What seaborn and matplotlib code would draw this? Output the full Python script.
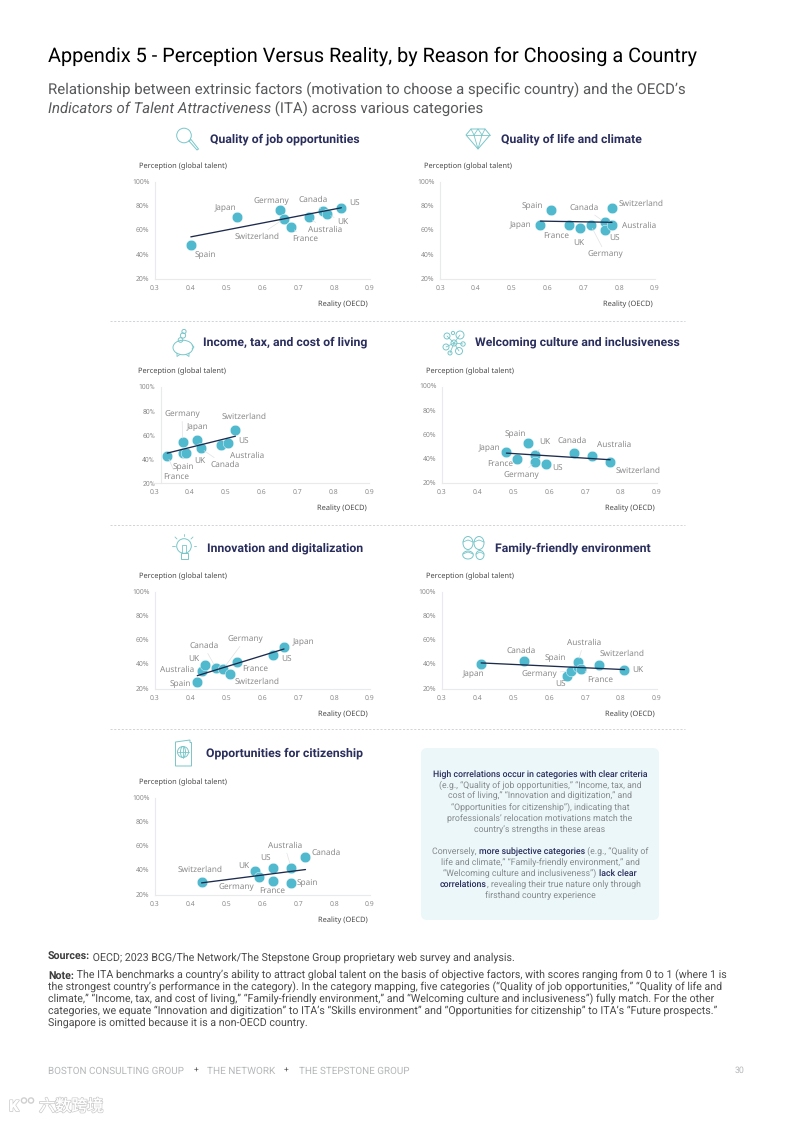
import matplotlib
matplotlib.use("Agg")
import matplotlib.pyplot as plt
import matplotlib.patheffects as pe
from matplotlib.patches import FancyBboxPatch, Circle, Ellipse, Polygon, Rectangle
import seaborn as sns

sns.set_theme(style="white")
plt.rcParams["font.family"] = ["Roboto", "DejaVu Sans"]
plt.rcParams["text.hinting"] = "no_hinting"

# ---------- data ----------
job_names = ["Spain", "Japan", "Germany", "Switzerland", "France", "Australia", "Canada", "UK", "US"]
job_x = [.40, .53, .65, .66, .68, .73, .77, .78, .82]
job_y = [48, 71, 77, 70, 63, 71, 76, 74, 78.5]
job_trend_x = [.40, .82]
job_trend_y = [55, 79]

life_names = ["Spain", "Japan", "France", "UK", "Germany", "Canada", "US", "Australia", "Switzerland"]
life_x = [.61, .58, .66, .69, .72, .76, .76, .78, .78]
life_y = [77, 65, 65, 62, 65, 67, 61, 65, 79]
life_trend_x = [.58, .78]
life_trend_y = [68, 67]

income_names = ["France", "Germany", "Spain", "UK", "Japan", "Canada", "Australia", "US", "Switzerland"]
income_x = [.337, .38, .38, .39, .42, .43, .487, .507, .527]
income_y = [43, 54, 45, 45, 56, 49, 52, 53, 64]
income_trend_x = [.337, .527]
income_trend_y = [45, 59]

welcome_names = ["Japan", "France", "Spain", "UK", "Germany", "US", "Canada", "Australia", "Switzerland"]
welcome_x = [.48, .51, .54, .56, .56, .59, .67, .72, .77]
welcome_y = [46, 40, 53, 43.5, 38, 36, 45, 43, 37.5]
welcome_trend_x = [.48, .77]
welcome_trend_y = [45, 39.5]

innov_names = ["Spain", "Australia", "UK", "Canada", "Germany", "Switzerland", "France", "US", "Japan"]
innov_x = [.418, .43, .44, .47, .49, .51, .53, .63, .66]
innov_y = [26, 34.6, 39.5, 37.3, 36.5, 32.4, 42, 48.3, 55]
innov_trend_x = [.418, .66]
innov_trend_y = [31, 53]

family_names = ["Japan", "Canada", "US", "Germany", "Spain", "Australia", "France", "Switzerland", "UK"]
family_x = [.41, .53, .65, .66, .68, .68, .69, .74, .81]
family_y = [41, 43, 31, 35, 38, 42, 36.5, 40, 36]
family_trend_x = [.41, .81]
family_trend_y = [41.5, 36]

citizen_names = ["Switzerland", "UK", "Germany", "US", "France", "Australia", "Spain", "Canada"]
citizen_x = [.43, .58, .59, .63, .63, .68, .68, .72]
citizen_y = [31, 40, 35, 42, 31.5, 42.5, 30, 51]
citizen_trend_x = [.43, .72]
citizen_trend_y = [30, 41]

x_ticks = [.3, .4, .5, .6, .7, .8, .9]
y_ticks = [20, 40, 60, 80, 100]

# ---------- styles / layout ----------
W, H = 793, 1122
TEAL = "#50B9CE"
NAVY = "#2A2E5C"
DARK = "#1D2B4D"
GRAY = "#8A8A8A"
ICON = "#79C6CA"
PANEL_FONT = ["Noto Sans", "DejaVu Sans"]

fig = plt.figure(figsize=(W / 100, H / 100), dpi=100, facecolor="white")
page = fig.add_axes([0, 0, 1, 1], zorder=0)
page.set_xlim(0, W)
page.set_ylim(H, 0)
page.axis("off")
rend = fig.canvas.get_renderer()


def tw(s, **kw):
    t = page.text(0, 0, "|" + s + "|", **kw)
    a = t.get_window_extent(rend).width
    t.set_text("||")
    b = t.get_window_extent(rend).width
    t.remove()
    return a - b


def fit(s, width, **kw):
    size = 10.0
    for _ in range(3):
        size *= width / tw(s, fontsize=size, **kw)
    return size


def rich(x, y, runs, size, ha="left"):
    total = sum(tw(r[0], fontsize=size, **r[1]) for r in runs)
    cur = x - total / 2 if ha == "center" else x
    base = y + 0.49 * size
    for s, st in runs:
        page.text(cur, base, s, fontsize=size, va="baseline", ha="left", **st)
        cur += tw(s, fontsize=size, **st)


LABEL_SIZE = fit("Switzerland", 45, family=PANEL_FONT)
TICK_SIZE = fit("100%", 17.5, family=PANEL_FONT)
AXT_SIZE = fit("Perception (global talent)", 88, family=PANEL_FONT)
HEAD_SIZE = fit("Quality of job opportunities", 149, fontweight="bold")

# (zoom-crop origin, label centres inside that crop at 3x, names that get a leader line)
panels = [
    dict(t="Quality of job opportunities", tc=284.5, ty_=139, names=job_names, x=job_x, y=job_y, tx=job_trend_x, ty=job_trend_y,
         rect=(155, 182.3, 370, 279.3), ptop=166, rx=368, ry=304, plx=139, org=(110, 120),
         lab=[(287, 405), (347, 264), (485, 243), (441, 351), (585, 357), (646, 330), (608, 240), (699, 306), (734, 252)],
         lead=["Switzerland", "Australia", "UK", "France", "Canada"]),
    dict(t="Quality of life and climate", tc=571.5, ty_=139, names=life_names, x=life_x, y=life_y, tx=life_trend_x, ty=life_trend_y,
         rect=(440, 182.3, 655, 279.3), ptop=166, rx=653, ry=304, plx=424, org=(400, 120),
         lab=[(398, 258), (361, 316), (470, 348), (535, 368), (617, 402), (553, 263), (645, 357), (716, 318), (724, 252)],
         lead=["Germany", "Canada"]),
    dict(t="Income, tax, and cost of living", tc=285.5, ty_=342, names=income_names, x=income_x, y=income_y, tx=income_trend_x, ty=income_trend_y,
         rect=(154, 386.7, 369.3, 483.3), ptop=371, rx=367, ry=508, plx=138, org=(110, 325),
         lab=[(200, 456), (216, 267), (220, 425), (269, 407), (263, 306), (345, 420), (412, 392), (401, 350), (403, 276)],
         lead=["Germany", "France", "Canada", "Spain"], shift=6.5),
    dict(t="Welcoming culture and inclusiveness", tc=577, ty_=342, names=welcome_names, x=welcome_x, y=welcome_y, tx=welcome_trend_x, ty=welcome_trend_y,
         rect=(442, 386.7, 656.7, 483.3), ptop=371, rx=655, ry=508, plx=426, org=(400, 325),
         lab=[(269, 370), (300, 416), (346, 327), (435, 351), (363, 450), (473, 431), (515, 348), (642, 360), (713, 437)],
         lead=["Germany", "UK"]),
    dict(t="Innovation and digitalization", tc=285.5, ty_=548, names=innov_names, x=innov_x, y=innov_y, tx=innov_trend_x, ty=innov_trend_y,
         rect=(155, 592, 370, 689), ptop=576, rx=368, ry=714, plx=139, org=(110, 530),
         lab=[(212, 461), (201, 420), (250, 386), (281, 348), (406, 327), (441, 455), (436, 417), (531, 390), (579, 336)],
         lead=["Canada", "Germany"]),
    dict(t="Family-friendly environment", tc=572.5, ty_=548, names=family_names, x=family_x, y=family_y, tx=family_trend_x, ty=family_trend_y,
         rect=(441.7, 592, 656.7, 689), ptop=576, rx=655, ry=714, plx=426, org=(400, 530),
         lab=[(221, 432), (363, 363), (483, 465), (417, 432), (466, 384), (551, 339), (600, 449), (665, 372), (714, 420)],
         lead=["Australia", "Germany", "France"]),
    dict(t="Opportunities for citizenship", tc=284.5, ty_=753, names=citizen_names, x=citizen_x, y=citizen_y, tx=citizen_trend_x, ty=citizen_trend_y,
         rect=(155, 798, 370, 895), ptop=782, rx=368, ry=920, plx=139, org=(110, 735),
         lab=[(271, 405), (400, 393), (380, 456), (466, 372), (488, 467), (524, 332), (592, 444), (648, 353)],
         lead=["Australia"]),
]

for p in panels:
    l, t, r, b = p["rect"]
    ax = fig.add_axes([l / W, 1 - b / H, (r - l) / W, (b - t) / H], zorder=2)
    ax.set_facecolor("none")
    sns.scatterplot(x=p["x"], y=p["y"], ax=ax, s=58, color=TEAL, edgecolor="white", linewidth=0.3, zorder=3, clip_on=False)
    sns.lineplot(x=p["tx"], y=p["ty"], ax=ax, color=DARK, linewidth=0.95, estimator=None, sort=False, zorder=4)
    ax.set_xlim(.3, .9)
    ax.set_ylim(20, 100)
    ax.set_xticks(x_ticks)
    ax.set_yticks(y_ticks)
    ax.set_xticklabels([f"{v:.1f}" for v in x_ticks], family=PANEL_FONT)
    ax.set_yticklabels([f"{v}%" for v in y_ticks], family=PANEL_FONT)
    ax.tick_params(axis="x", length=0, pad=4.6, labelsize=TICK_SIZE, labelcolor=GRAY)
    ax.tick_params(axis="y", length=0, pad=4.0, labelsize=TICK_SIZE, labelcolor=GRAY)
    for s in ("top", "right"):
        ax.spines[s].set_visible(False)
    for s in ("left", "bottom"):
        ax.spines[s].set_color("#E8EAEC")
        ax.spines[s].set_linewidth(0.8)
    if "shift" in p:
        ax.spines["left"].set_position(("data", .3 + p["shift"] / (r - l) * .6))
    ox, oy = p["org"]
    for n, px_, py_, (zx, zy) in zip(p["names"], p["x"], p["y"], p["lab"]):
        ax.annotate(n, xy=(px_, py_), xycoords="data", xytext=(ox + zx / 3, oy + zy / 3),
                    textcoords=page.transData, ha="center", va="center", fontsize=LABEL_SIZE, color=GRAY,
                    family=PANEL_FONT, annotation_clip=False,
                    arrowprops=(dict(arrowstyle="-", color="#DFE2E4", lw=0.5, shrinkA=0, shrinkB=3) if n in p["lead"] else None))
    page.text(p["tc"], p["ty_"], p["t"], ha="center", va="center", fontsize=HEAD_SIZE, fontweight="bold", color=NAVY)
    page.text(p["plx"], p["ptop"], "Perception (global talent)", ha="left", va="center", fontsize=AXT_SIZE,
              color="#4A4A4A", family=PANEL_FONT)
    page.text(p["rx"], p["ry"], "Reality (OECD)", ha="right", va="center", fontsize=AXT_SIZE,
              color="#4A4A4A", family=PANEL_FONT)

# separators
for y in (320.5, 525, 729):
    page.plot([110, 685], [y, y], color="#C9CDD0", lw=0.6, ls=(0, (2.5, 2)))

# ---------- icons (decorative line drawings) ----------
ik = dict(ec=ICON, fc="none", lw=0.7)
lk = dict(color=ICON, lw=0.6)
# magnifier
page.add_patch(Circle((184, 135.5), 7.3, **ik))
page.plot([189, 197, 198.5, 191, 189], [141, 150, 149, 139.5, 141], color=ICON, lw=0.7)
# diamond
page.add_patch(Polygon([(466, 135), (471, 129), (485, 129), (490, 135), (478, 149)], closed=True, **ik))
page.plot([466, 490], [135, 135], **lk)
page.plot([471, 474, 478, 482, 485], [129, 135, 129, 135, 129], **lk)
page.plot([474, 478, 482], [135, 149, 135], **lk)
# piggy bank
page.add_patch(Ellipse((183, 347.5), 20, 14.5, **ik))
page.add_patch(Circle((183, 335.5), 2.6, **ik))
page.add_patch(Circle((180.5, 340), 2.3, **ik))
page.add_patch(Circle((184, 331.5), 2.1, **ik))
page.plot([177, 177, 180], [353, 356.5, 354.5], **lk)
page.plot([189, 189, 186], [353, 356.5, 354.5], **lk)
page.plot([192, 194, 192], [345, 347, 349], **lk)
# network
for cx, cy, rad in [(447, 336, 3), (460, 335, 4), (446, 347, 3), (454, 343, 3), (459, 351, 3.5),
                    (450, 353, 2), (463, 344, 2.2), (453, 333, 1.6)]:
    page.add_patch(Circle((cx, cy), rad, **ik))
page.plot([447, 454, 460], [336, 343, 335], **lk)
page.plot([446, 454, 459], [347, 343, 351], **lk)
page.plot([450, 454, 463], [353, 343, 344], **lk)
# light bulb
page.add_patch(Circle((184, 546), 7.3, **ik))
page.add_patch(Rectangle((180.5, 553), 7, 6, **ik))
page.plot([182, 182, 186, 186], [553, 545, 545, 553], **lk)
for a, b, c, d in [(172, 546, 174.5, 546), (193.5, 546, 196, 546), (175, 537, 177, 539),
                   (193, 537, 191, 539), (184, 536, 184, 534)]:
    page.plot([a, c], [b, d], **lk)
# faces
for cx, cy, wd, ht in [(468, 543, 10, 13), (479, 543, 10, 13), (468, 555, 10.5, 8), (480, 555, 8, 9)]:
    page.add_patch(Ellipse((cx, cy), wd, ht, **ik))
    page.plot([cx - wd / 2, cx, cx + wd / 2], [cy - 1, cy - 3, cy - 1], **lk)
# passport
page.add_patch(Polygon([(175.5, 742), (190, 740), (190, 742.5), (191.5, 742.5), (191.5, 766), (175.5, 766)], closed=True, **ik))
page.add_patch(Circle((183, 752), 5.5, **ik))
page.add_patch(Ellipse((183, 752), 5, 11, **ik))
page.plot([177.5, 188.5], [752, 752], **lk)
page.plot([183, 183], [746.5, 757.5], **lk)

# ---------- headings ----------
TITLE = "Appendix 5 - Perception Versus Reality, by Reason for Choosing a Country"
page.text(48, 56, TITLE, fontsize=fit(TITLE, 650), va="center", color="black")
SUB1 = "Relationship between extrinsic factors (motivation to choose a specific country) and the OECD\u2019s"
sub_size = fit(SUB1, 637)
rich(48, 88.5, [(SUB1, dict(color="#58595B"))], sub_size)
rich(48, 107.5, [("Indicators of Talent Attractiveness", dict(style="italic", color="#58595B")),
                 (" (ITA) across various categories", dict(color="#58595B"))], sub_size)

# ---------- call-out box ----------
page.add_patch(FancyBboxPatch((424, 751), 232, 166, boxstyle="round,pad=3,rounding_size=6", fc="#ECF7FA", ec="none"))
B = dict(color=NAVY, fontweight="medium")
G = dict(color="#85898C")
box_lines = [
    (774, [("High correlations occur in categories with clear criteria", B)]),
    (784.7, [("(e.g., \u201cQuality of job opportunities,\u201d \u201cIncome, tax, and", G)]),
    (795.3, [("cost of living,\u201d \u201cInnovation and digitization,\u201d and", G)]),
    (806.7, [("\u201cOpportunities for citizenship\u201d), indicating that", G)]),
    (818, [("professionals\u2019 relocation motivations match the", G)]),
    (829, [("country\u2019s strengths in these areas", G)]),
    (850.7, [("Conversely, ", G), ("more subjective categories", B), (" (e.g., \u201cQuality of", G)]),
    (861.7, [("life and climate,\u201d \u201cFamily-friendly environment,\u201d and", G)]),
    (873, [("\u201cWelcoming culture and inclusiveness\u201d) ", G), ("lack clear", B)]),
    (883.7, [("correlations", B), (", revealing their true nature only through", G)]),
    (894.7, [("firsthand country experience", G)]),
]
box_size = fit(box_lines[0][1][0][0], 217, fontweight="medium")
for y, runs in box_lines:
    rich(540, y, runs, box_size, ha="center")

# ---------- notes ----------
NB = dict(color="#3C3C3C", fontweight="bold")
NR = dict(color="#4A4A4A")
NOTE1 = "The ITA benchmarks a country\u2019s ability to attract global talent on the basis of objective factors, with scores ranging from 0 to 1 (where 1 is"
note_size = fit(NOTE1, 644)
rich(48, 956.5, [("Sources:", NB), (" OECD; 2023 BCG/The Network/The Stepstone Group proprietary web survey and analysis.", NR)], note_size)
rich(48, 975, [("Note:", NB), (" " + NOTE1, NR)], note_size)
for y, s in [(987, "the strongest country\u2019s performance in the category). In the category mapping, five categories (\u201cQuality of job opportunities,\u201d \u201cQuality of life and"),
             (998.4, "climate,\u201d \u201cIncome, tax, and cost of living,\u201d \u201cFamily-friendly environment,\u201d and \u201cWelcoming culture and inclusiveness\u201d) fully match. For the other"),
             (1009.8, "categories, we equate \u201cInnovation and digitization\u201d to ITA\u2019s \u201cSkills environment\u201d and \u201cOpportunities for citizenship\u201d to ITA\u2019s \u201cFuture prospects.\u201d"),
             (1021.5, "Singapore is omitted because it is a non-OECD country.")]:
    rich(48, y, [(s, NR)], note_size)

# ---------- footer ----------
FOOT = "#B5B7B9"
rich(48, 1070.5, [("BOSTON CONSULTING GROUP", dict(color=FOOT))], fit("BOSTON CONSULTING GROUP", 136))
page.text(196, 1070.5, "+", fontsize=6, ha="center", va="center", color="#555555")
rich(207, 1070.5, [("THE NETWORK", dict(color=FOOT))], fit("THE NETWORK", 68))
page.text(286, 1070.5, "+", fontsize=6, ha="center", va="center", color="#555555")
rich(299, 1070.5, [("THE STEPSTONE GROUP", dict(color=FOOT))], fit("THE STEPSTONE GROUP", 110))
page.text(740, 1070.5, "30", fontsize=6.3, ha="center", va="center", color=FOOT)

# ---------- watermark ----------
halo = [pe.withStroke(linewidth=1.3, foreground="#CFCFCF"), pe.Normal()]
page.text(39, 1106.5, "\u516d\u6570\u8de8\u5883", fontsize=11.6, va="center", color="white",
          family=["Noto Sans CJK SC", "DejaVu Sans"], path_effects=halo)
page.text(14, 1107, "K", fontsize=11, ha="center", va="center", color="white", fontweight="bold", path_effects=halo)
for cx in (24, 31):
    page.add_patch(Circle((cx, 1100.5), 2.6, fc="white", ec="#CFCFCF", lw=1.0))

fig.savefig("out.png", dpi=100, facecolor="white")
